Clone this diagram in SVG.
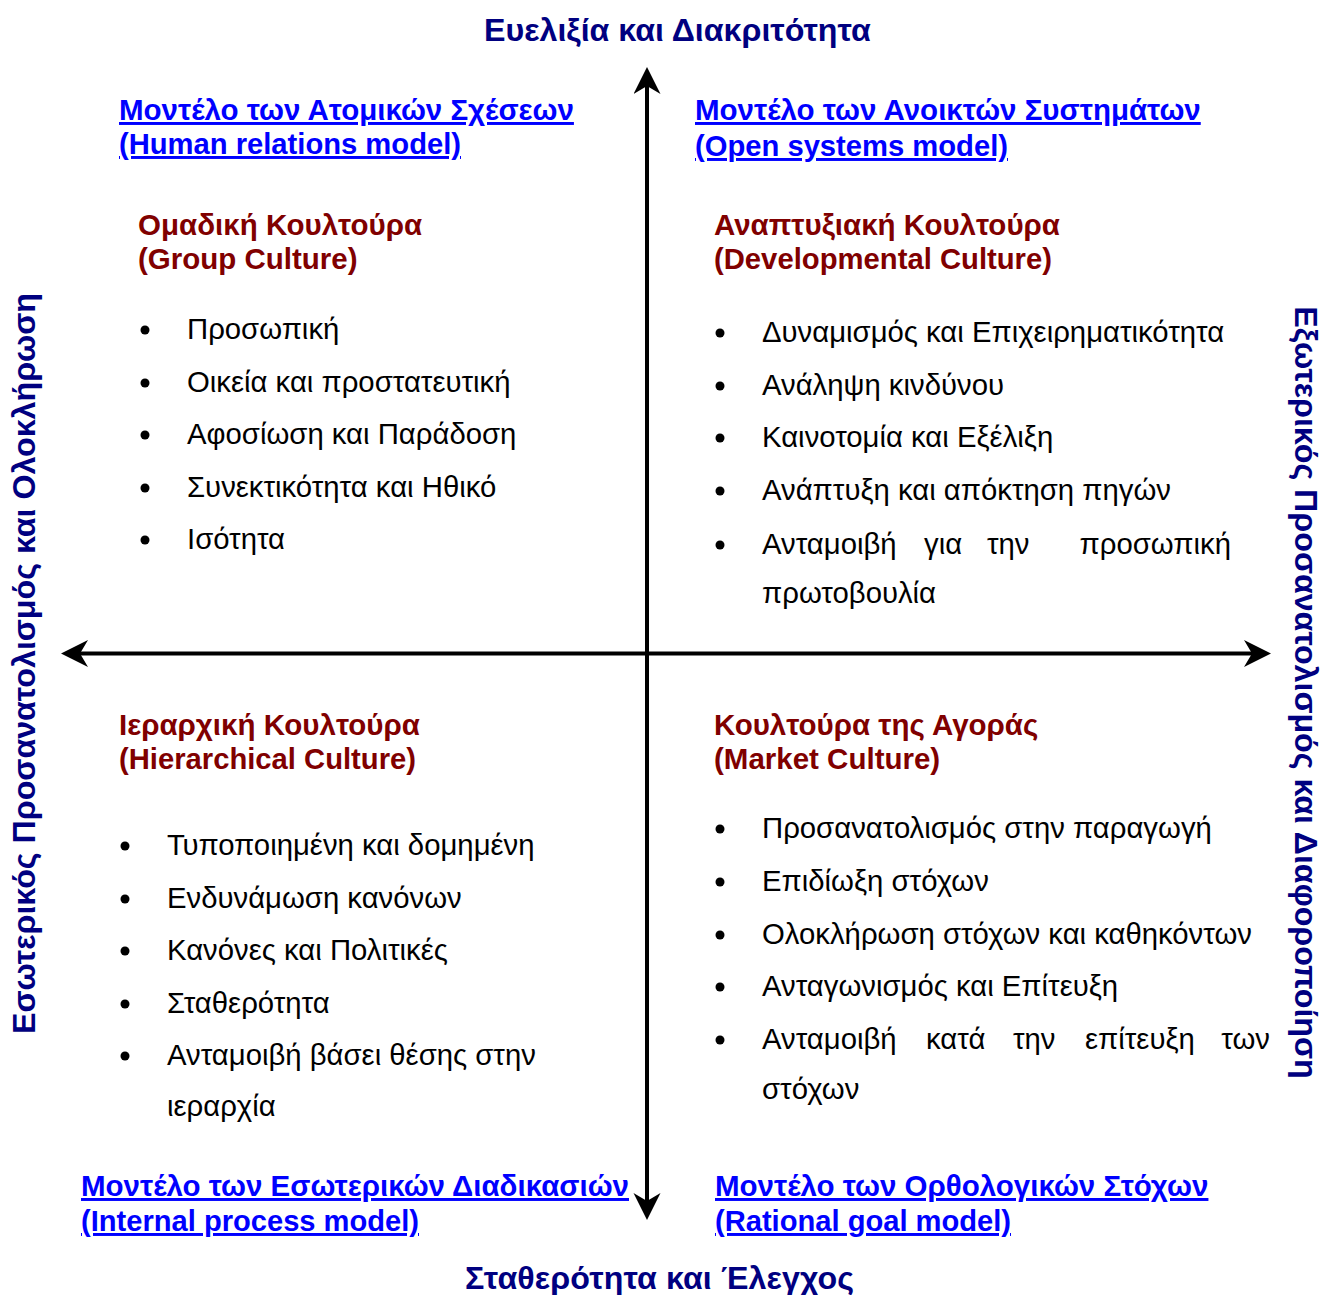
<svg xmlns="http://www.w3.org/2000/svg" width="1327" height="1295" viewBox="0 0 1327 1295">
  <style>
    text { font-family: "Liberation Sans", Arial, sans-serif; }
    .axis-title { font-size: 32.2px; font-weight: bold; fill: #000080; }
    .side-title { font-size: 32.2px; font-weight: bold; fill: #000080; text-anchor: middle; }
    .model { font-size: 29.5px; font-weight: bold; fill: #0000FF; text-decoration: underline; }
    .culture { font-size: 29.5px; font-weight: bold; fill: #800000; }
    .item { font-size: 29.3px; fill: #000000; }
    .axis { stroke: #000000; stroke-width: 4; fill: none; }
  </style>
  <defs>
    <marker id="arrow" markerUnits="userSpaceOnUse" markerWidth="28" markerHeight="28" viewBox="0 0 28 28" refX="10" refY="13.5" orient="auto-start-reverse">
      <path d="M27,13.5 L0,0 L8,13.5 L0,27 Z" fill="#000000"/>
    </marker>
    <circle id="bullet" r="4.5" fill="#000000"/>
  </defs>

  <rect width="1327" height="1295" fill="#ffffff"/>

  <!-- axes -->
  <g id="connectors">
    <line class="axis" x1="647" y1="1203" x2="647" y2="84" marker-start="url(#arrow)" marker-end="url(#arrow)"/>
    <line class="axis" x1="78" y1="653.5" x2="1254" y2="653.5" marker-start="url(#arrow)" marker-end="url(#arrow)"/>
  </g>

  <!-- axis labels -->
  <g id="axis-top"><text class="axis-title" x="484" y="41">Ευελιξία και Διακριτότητα</text></g>
  <g id="axis-bottom"><text class="axis-title" x="465" y="1289" textLength="389">Σταθερότητα και Έλεγχος</text></g>
  <g id="axis-left"><text class="side-title" transform="translate(35,663.5) rotate(-90)">Εσωτερικός Προσανατολισμός και Ολοκλήρωση</text></g>
  <g id="axis-right"><text class="side-title" transform="translate(1295,692.5) rotate(90)">Εξωτερικός Προσανατολισμός και Διαφοροποίηση</text></g>

  <!-- model names -->
  <g id="model-human-relations">
    <text class="model" x="119" y="120">Μοντέλο των Ατομικών Σχέσεων</text>
    <text class="model" x="119" y="154" textLength="342" lengthAdjust="spacingAndGlyphs">(Human relations model)</text>
  </g>
  <g id="model-open-systems">
    <text class="model" x="695" y="120">Μοντέλο των Ανοικτών Συστημάτων</text>
    <text class="model" x="695" y="156" textLength="313" lengthAdjust="spacingAndGlyphs">(Open systems model)</text>
  </g>
  <g id="model-internal-process">
    <text class="model" x="81" y="1196">Μοντέλο των Εσωτερικών Διαδικασιών</text>
    <text class="model" x="81" y="1231" textLength="338" lengthAdjust="spacingAndGlyphs">(Internal process model)</text>
  </g>
  <g id="model-rational-goal">
    <text class="model" x="715" y="1196">Μοντέλο των Ορθολογικών Στόχων</text>
    <text class="model" x="715" y="1231" textLength="296" lengthAdjust="spacingAndGlyphs">(Rational goal model)</text>
  </g>

  <!-- group culture -->
  <g id="group-culture">
    <text class="culture" x="138" y="235">Ομαδική Κουλτούρα</text>
    <text class="culture" x="138" y="269">(Group Culture)</text>
    <use href="#bullet" x="145" y="330"/><text class="item" x="187" y="339">Προσωπική</text>
    <use href="#bullet" x="145" y="383"/><text class="item" x="187" y="392">Οικεία και προστατευτική</text>
    <use href="#bullet" x="145" y="435"/><text class="item" x="187" y="444">Αφοσίωση και Παράδοση</text>
    <use href="#bullet" x="145" y="488"/><text class="item" x="187" y="497">Συνεκτικότητα και Ηθικό</text>
    <use href="#bullet" x="145" y="540"/><text class="item" x="187" y="549">Ισότητα</text>
  </g>

  <!-- developmental culture -->
  <g id="developmental-culture">
    <text class="culture" x="714" y="235">Αναπτυξιακή Κουλτούρα</text>
    <text class="culture" x="714" y="269" textLength="338" lengthAdjust="spacingAndGlyphs">(Developmental Culture)</text>
    <use href="#bullet" x="720" y="333"/><text class="item" x="762" y="342">Δυναμισμός και Επιχειρηματικότητα</text>
    <use href="#bullet" x="720" y="386"/><text class="item" x="762" y="395">Ανάληψη κινδύνου</text>
    <use href="#bullet" x="720" y="438"/><text class="item" x="762" y="447">Καινοτομία και Εξέλιξη</text>
    <use href="#bullet" x="720" y="491"/><text class="item" x="762" y="500">Ανάπτυξη και απόκτηση πηγών</text>
    <use href="#bullet" x="720" y="545"/>
    <text class="item" y="554"><tspan x="762">Ανταμοιβή</tspan><tspan x="924">για</tspan><tspan x="987">την</tspan><tspan x="1231" text-anchor="end">προσωπική</tspan></text>
    <text class="item" x="762" y="603">πρωτοβουλία</text>
  </g>

  <!-- hierarchical culture -->
  <g id="hierarchical-culture">
    <text class="culture" x="119" y="735">Ιεραρχική Κουλτούρα</text>
    <text class="culture" x="119" y="769" textLength="297" lengthAdjust="spacingAndGlyphs">(Hierarchical Culture)</text>
    <use href="#bullet" x="125" y="846"/><text class="item" x="167" y="855">Τυποποιημένη και δομημένη</text>
    <use href="#bullet" x="125" y="899"/><text class="item" x="167" y="908">Ενδυνάμωση κανόνων</text>
    <use href="#bullet" x="125" y="951"/><text class="item" x="167" y="960">Κανόνες και Πολιτικές</text>
    <use href="#bullet" x="125" y="1004"/><text class="item" x="167" y="1013">Σταθερότητα</text>
    <use href="#bullet" x="125" y="1056"/><text class="item" x="167" y="1065">Ανταμοιβή βάσει θέσης στην</text>
    <text class="item" x="167" y="1116">ιεραρχία</text>
  </g>

  <!-- market culture -->
  <g id="market-culture">
    <text class="culture" x="714" y="735">Κουλτούρα της Αγοράς</text>
    <text class="culture" x="714" y="769">(Market Culture)</text>
    <use href="#bullet" x="720" y="829"/><text class="item" x="762" y="838">Προσανατολισμός στην παραγωγή</text>
    <use href="#bullet" x="720" y="882"/><text class="item" x="762" y="891">Επιδίωξη στόχων</text>
    <use href="#bullet" x="720" y="935"/><text class="item" x="762" y="944">Ολοκλήρωση στόχων και καθηκόντων</text>
    <use href="#bullet" x="720" y="987"/><text class="item" x="762" y="996">Ανταγωνισμός και Επίτευξη</text>
    <use href="#bullet" x="720" y="1040"/>
    <text class="item" y="1049"><tspan x="762">Ανταμοιβή</tspan><tspan x="926">κατά</tspan><tspan x="1013">την</tspan><tspan x="1085">επίτευξη</tspan><tspan x="1270" text-anchor="end">των</tspan></text>
    <text class="item" x="762" y="1099">στόχων</text>
  </g>
</svg>
